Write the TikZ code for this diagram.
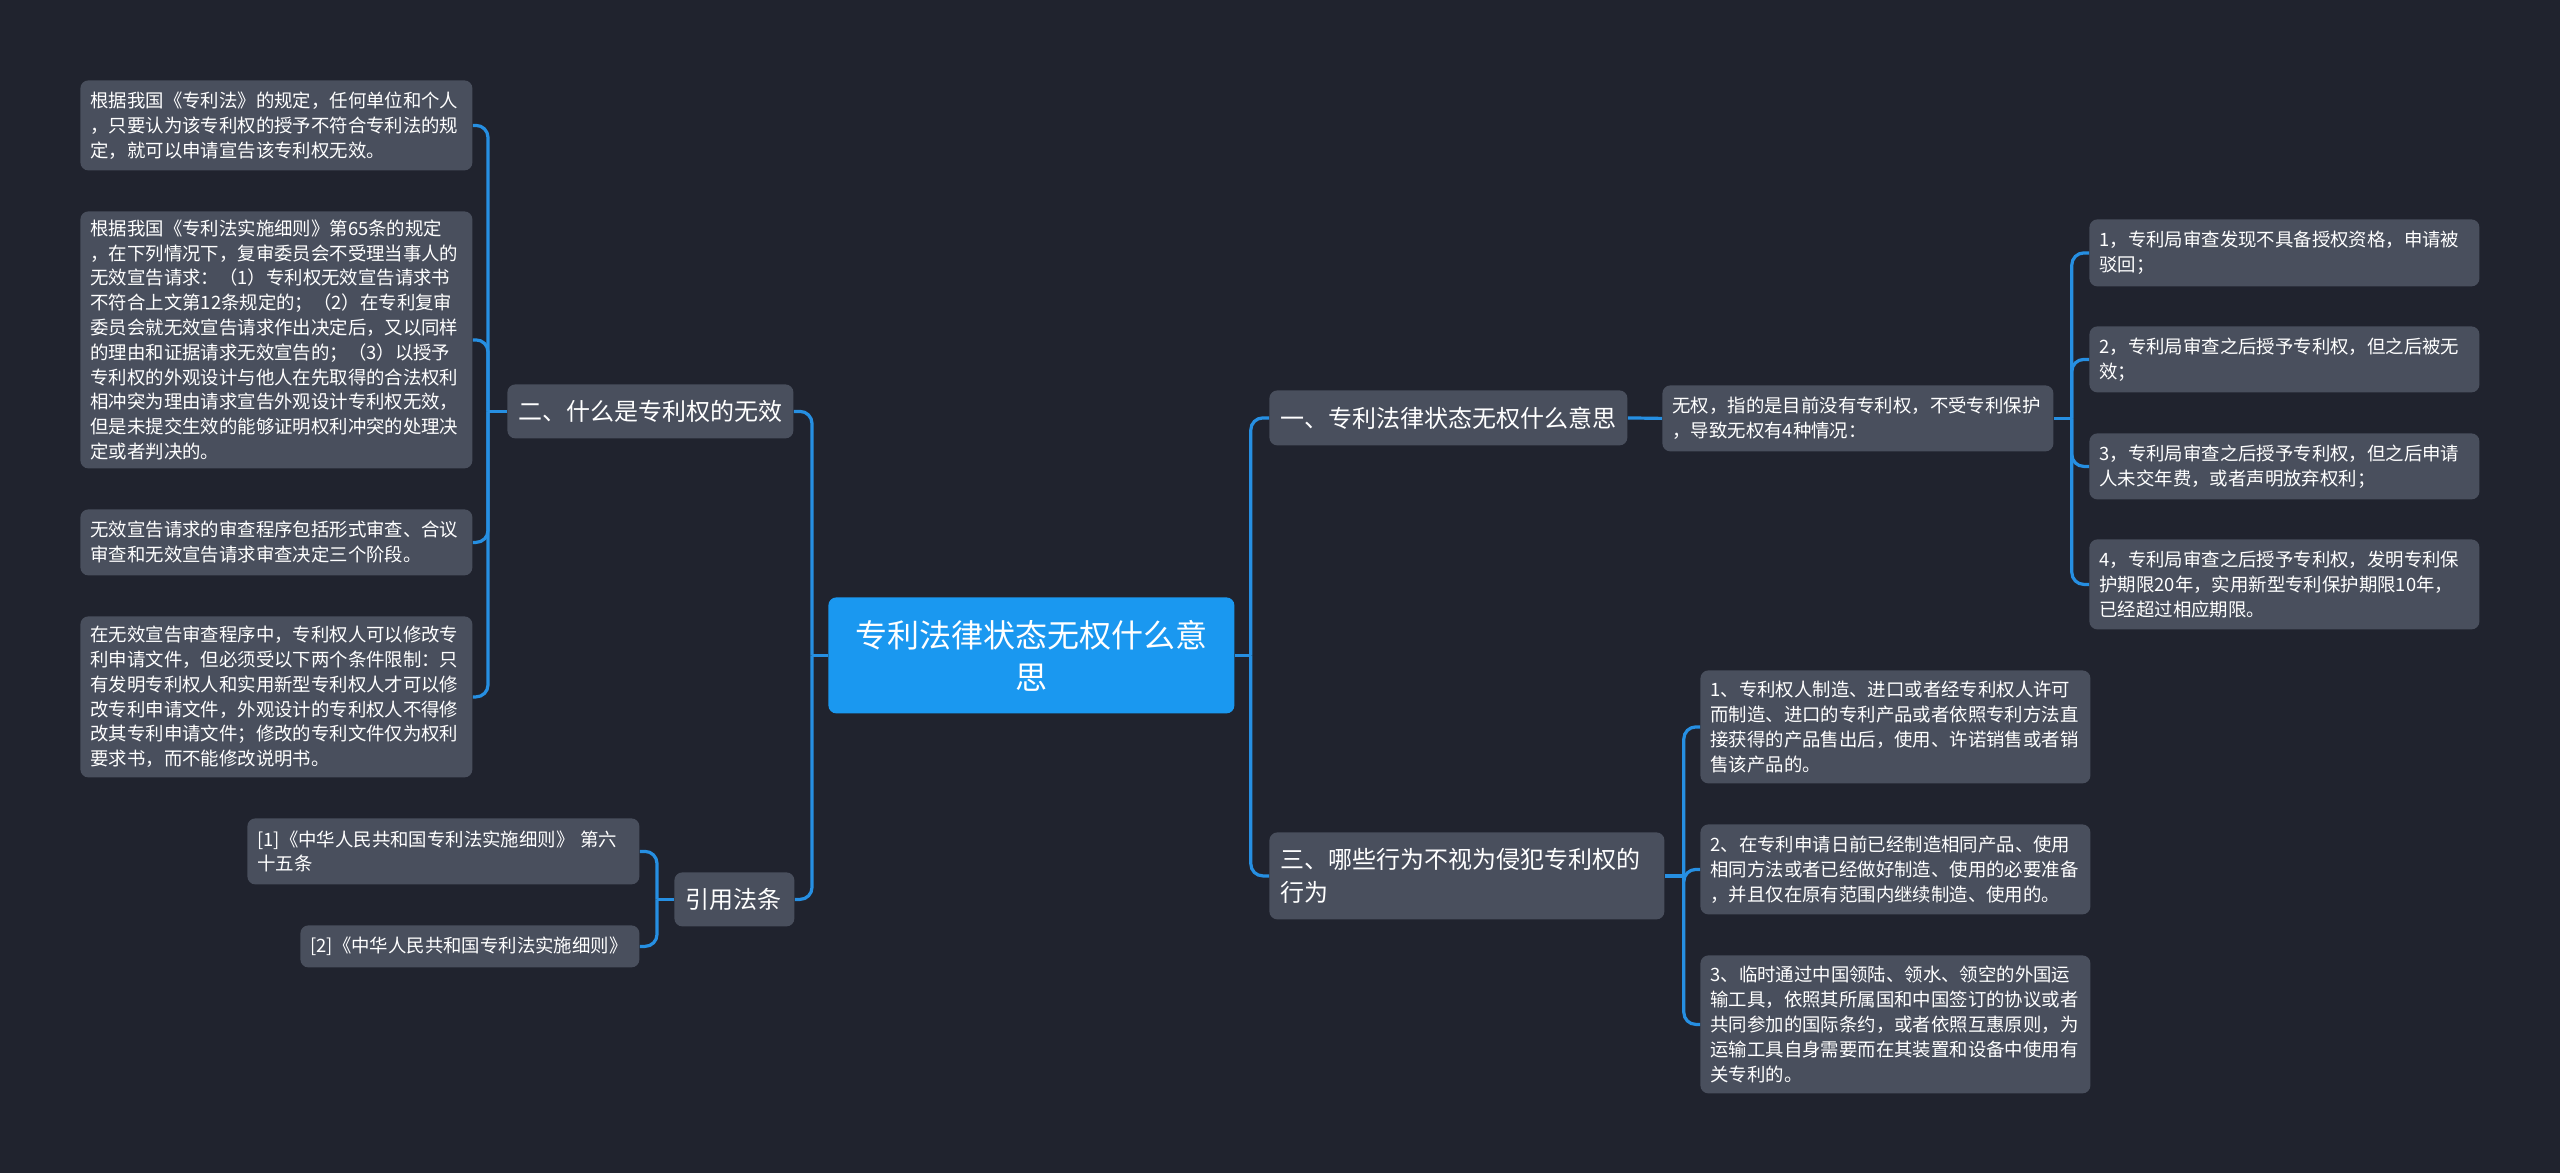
\documentclass[tikz,border=0pt]{standalone}
\usepackage{fontspec}
\setmainfont{Noto Sans CJK SC}
\definecolor{bgcol}{RGB}{32,35,46}
\definecolor{boxcol}{RGB}{73,79,93}
\definecolor{rootcol}{RGB}{26,152,240}
\definecolor{linecol}{RGB}{38,143,226}
\tikzset{
  leaf/.style={fill=boxcol, text=white, rounded corners=4pt, align=left, inner xsep=5pt, inner ysep=0pt, font=\fontsize{9.2}{12.4}\selectfont, anchor=north west},
  topic/.style={fill=boxcol, text=white, rounded corners=4pt, align=left, inner xsep=5.5pt, inner ysep=0pt, font=\fontsize{12}{16.5}\selectfont, anchor=north west},
  link/.style={draw=linecol, line width=1.6pt, rounded corners=6pt}
}
\begin{document}
\begin{tikzpicture}[x=0.5pt, y=-0.5pt]
\fill[bgcol] (0,0) rectangle (2560,1173);
\useasboundingbox (0,0) rectangle (2560,1173);
% centre
\node[fill=rootcol, text=white, rounded corners=4pt, align=center, font=\fontsize{16}{21}\selectfont, minimum width=203pt, minimum height=58pt, inner sep=0pt, anchor=north west] (root) at (828,597) {专利法律状态无权什么意\\思};
% left half
\node[topic, text width=132pt, minimum height=27pt] (n2) at (507,384) {二、什么是专利权的无效};
\node[leaf, text width=186pt, minimum height=45pt] (l1) at (80,80) {根据我国《专利法》的规定，任何单位和个人\\，只要认为该专利权的授予不符合专利法的规\\定，就可以申请宣告该专利权无效。};
\node[leaf, text width=186pt, minimum height=128.5pt] (l2) at (80,211) {根据我国《专利法实施细则》第65条的规定\\，在下列情况下，复审委员会不受理当事人的\\无效宣告请求：（1）专利权无效宣告请求书\\不符合上文第12条规定的；（2）在专利复审\\委员会就无效宣告请求作出决定后，又以同样\\的理由和证据请求无效宣告的；（3）以授予\\专利权的外观设计与他人在先取得的合法权利\\相冲突为理由请求宣告外观设计专利权无效，\\但是未提交生效的能够证明权利冲突的处理决\\定或者判决的。};
\node[leaf, text width=186pt, minimum height=33pt] (l3) at (80,509) {无效宣告请求的审查程序包括形式审查、合议\\审查和无效宣告请求审查决定三个阶段。};
\node[leaf, text width=186pt, minimum height=80.5pt] (l4) at (80,616) {在无效宣告审查程序中，专利权人可以修改专\\利申请文件，但必须受以下两个条件限制：只\\有发明专利权人和实用新型专利权人才可以修\\改专利申请文件，外观设计的专利权人不得修\\改其专利申请文件；修改的专利文件仅为权利\\要求书，而不能修改说明书。};
\node[topic, text width=49pt, minimum height=27pt] (cite) at (674,872) {引用法条};
\node[leaf, text width=186pt, minimum height=33pt] (r1) at (247,818) {[1]《中华人民共和国专利法实施细则》 第六\\十五条};
\node[leaf, text width=159.5pt, minimum height=21pt] (r2) at (300,925) {[2]《中华人民共和国专利法实施细则》};
% right half
\node[topic, text width=168pt, minimum height=27.5pt] (n1) at (1269,390) {一、专利法律状态无权什么意思};
\node[leaf, text width=185.5pt, minimum height=33pt] (wq) at (1662,385) {无权，指的是目前没有专利权，不受专利保护\\，导致无权有4种情况：};
\node[leaf, text width=185pt, minimum height=33.5pt] (a) at (2089,219) {1，专利局审查发现不具备授权资格，申请被\\驳回；};
\node[leaf, text width=185pt, minimum height=33pt] (b) at (2089,326) {2，专利局审查之后授予专利权，但之后被无\\效；};
\node[leaf, text width=185pt, minimum height=33pt] (c) at (2089,433) {3，专利局审查之后授予专利权，但之后申请\\人未交年费，或者声明放弃权利；};
\node[leaf, text width=185pt, minimum height=45pt] (d) at (2089,539) {4，专利局审查之后授予专利权，发明专利保\\护期限20年，实用新型专利保护期限10年，\\已经超过相应期限。};
\node[topic, text width=186.5pt, minimum height=43.5pt] (n3) at (1269,832) {三、哪些行为不视为侵犯专利权的\\行为};
\node[leaf, text width=185pt, minimum height=56.5pt] (e1) at (1700,670) {1、专利权人制造、进口或者经专利权人许可\\而制造、进口的专利产品或者依照专利方法直\\接获得的产品售出后，使用、许诺销售或者销\\售该产品的。};
\node[leaf, text width=185pt, minimum height=45pt] (e2) at (1700,824) {2、在专利申请日前已经制造相同产品、使用\\相同方法或者已经做好制造、使用的必要准备\\，并且仅在原有范围内继续制造、使用的。};
\node[leaf, text width=185pt, minimum height=69pt] (e3) at (1700,955) {3、临时通过中国领陆、领水、领空的外国运\\输工具，依照其所属国和中国签订的协议或者\\共同参加的国际条约，或者依照互惠原则，为\\运输工具自身需要而在其装置和设备中使用有\\关专利的。};
% connectors
\draw[link] (root.east) -- ++(16,0) coordinate (rj);
\draw[link] (rj) |- (n1.west);
\draw[link] (rj) |- (n3.west);
\draw[link] (root.west) -- ++(-16,0) coordinate (lj);
\draw[link] (lj) |- (n2.east);
\draw[link] (lj) |- (cite.east);
\draw[link] (n2.west) -- ++(-19,0) coordinate (j2);
\foreach \p in {l1,l2,l3,l4} \draw[link] (j2) |- (\p.east);
\draw[link] (cite.west) -- ++(-17,0) coordinate (jc);
\foreach \p in {r1,r2} \draw[link] (jc) |- (\p.east);
\draw[link] (n1.east) -- (wq.west);
\draw[link] (wq.east) -- ++(18,0) coordinate (jw);
\foreach \p in {a,b,c,d} \draw[link] (jw) |- (\p.west);
\draw[link] (n3.east) -- ++(19,0) coordinate (j3);
\foreach \p in {e1,e2,e3} \draw[link] (j3) |- (\p.west);
\end{tikzpicture}
\end{document}
